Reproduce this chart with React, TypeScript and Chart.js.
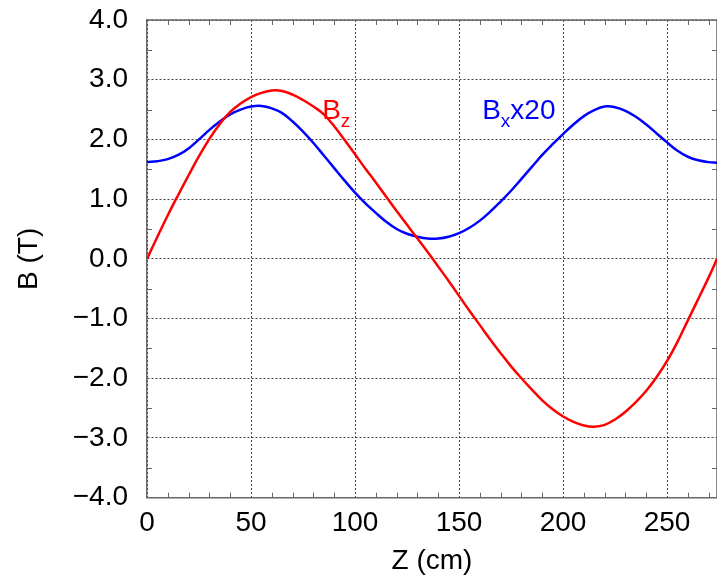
import React, { useEffect, useRef } from 'react';
import { Chart, registerables } from 'chart.js';

Chart.register(...registerables);

const FAMILY = "'Liberation Sans', Arial, Helvetica, sans-serif";

// Z positions (cm)
const zCm = [
  0, 5, 10, 15, 20, 25, 30, 35, 40, 45, 50, 55, 60, 65, 70, 75, 80, 85, 90, 95,
  100, 105, 110, 115, 120, 125, 130, 135, 140, 145, 150, 155, 160, 165, 170, 175,
  180, 185, 190, 195, 200, 205, 210, 215, 220, 225, 230, 235, 240, 245, 250, 255,
  260, 265, 270, 274,
];

// Bz (T)
const bz = [
  0.0, 0.37, 0.73, 1.07, 1.4, 1.72, 2.01, 2.26, 2.46, 2.6, 2.71, 2.78, 2.82, 2.81,
  2.75, 2.66, 2.55, 2.42, 2.22, 1.99, 1.75, 1.51, 1.28, 1.04, 0.8, 0.57, 0.34, 0.11,
  -0.13, -0.37, -0.62, -0.87, -1.11, -1.35, -1.58, -1.8, -2.0, -2.19, -2.37, -2.52,
  -2.64, -2.73, -2.79, -2.81, -2.78, -2.69, -2.56, -2.4, -2.21, -1.98, -1.71, -1.39,
  -1.03, -0.67, -0.31, 0.0,
];

// Bx x 20 (T)
const bx20 = [
  1.62, 1.635, 1.67, 1.74, 1.85, 2.0, 2.16, 2.3, 2.42, 2.5, 2.55, 2.56, 2.52, 2.44,
  2.3, 2.13, 1.94, 1.73, 1.52, 1.31, 1.11, 0.93, 0.77, 0.62, 0.5, 0.42, 0.37, 0.34,
  0.34, 0.37, 0.43, 0.52, 0.64, 0.79, 0.96, 1.14, 1.34, 1.54, 1.74, 1.92, 2.09, 2.25,
  2.39, 2.49, 2.55, 2.54, 2.48, 2.38, 2.25, 2.1, 1.95, 1.81, 1.71, 1.65, 1.62, 1.61,
];

const xTicks = [0, 50, 100, 150, 200, 250];
const xTickLabels = ['0', '50', '100', '150', '200', '250'];
const yTicks = [-4, -3, -2, -1, 0, 1, 2, 3, 4];
const yTickLabels = ['\u22124.0', '\u22123.0', '\u22122.0', '\u22121.0', '0.0', '1.0', '2.0', '3.0', '4.0'];
const xMinor = [10, 20, 30, 40, 60, 70, 80, 90, 110, 120, 130, 140, 160, 170, 180, 190, 210, 220, 230, 240, 260, 270];
const yMinor = [-3.5, -2.5, -1.5, -0.5, 0.5, 1.5, 2.5, 3.5];

const RED = '#ff0000';
const BLUE = '#0000ff';

// curve labels: text parts (sub = subscript)
const bzLabelParts = [
  { text: 'B', sub: false },
  { text: 'z', sub: true },
];
const bxLabelParts = [
  { text: 'B', sub: false },
  { text: 'x', sub: true },
  { text: 'x20', sub: false },
];
const bzLabelAt = { z: 84.2, b: 2.337 };
const bxLabelAt = { z: 161.1, b: 2.337 };

const FRAME = '#666666';

const framePlugin = {
  id: 'frameTicks',
  beforeDatasetsDraw(chart: any) {
    const { ctx, chartArea: a, scales } = chart;
    const x = scales.x;
    const y = scales.y;
    ctx.save();
    ctx.strokeStyle = FRAME;
    ctx.lineWidth = 1.5;
    ctx.beginPath();
    ctx.moveTo(a.left, a.top);
    ctx.lineTo(a.right, a.top);
    ctx.moveTo(a.right, a.top);
    ctx.lineTo(a.right, a.bottom);
    ctx.stroke();
    ctx.lineWidth = 1;
    ctx.beginPath();
    const L = 5;
    for (const v of xMinor) {
      const px = Math.round(x.getPixelForValue(v)) + 0.5;
      ctx.moveTo(px, a.bottom);
      ctx.lineTo(px, a.bottom - L);
      ctx.moveTo(px, a.top);
      ctx.lineTo(px, a.top + L);
    }
    for (const v of yMinor) {
      const py = Math.round(y.getPixelForValue(v)) + 0.5;
      ctx.moveTo(a.left, py);
      ctx.lineTo(a.left + L, py);
      ctx.moveTo(a.right, py);
      ctx.lineTo(a.right - L, py);
    }
    ctx.stroke();
    ctx.restore();
  },
};

const labelPlugin = {
  id: 'curveLabels',
  afterDatasetsDraw(chart: any) {
    const { ctx, scales } = chart;
    const x = scales.x;
    const y = scales.y;
    ctx.save();
    ctx.textAlign = 'left';
    ctx.textBaseline = 'alphabetic';
    const draw = (parts: { text: string; sub: boolean }[], at: { z: number; b: number }, color: string) => {
      let px = x.getPixelForValue(at.z);
      const py = y.getPixelForValue(at.b);
      ctx.fillStyle = color;
      for (const p of parts) {
        ctx.font = `${p.sub ? 19 : 28}px ${FAMILY}`;
        ctx.fillText(p.text, px, py + (p.sub ? 8 : 0));
        px += ctx.measureText(p.text).width;
      }
    };
    draw(bzLabelParts, bzLabelAt, RED);
    draw(bxLabelParts, bxLabelAt, BLUE);
    ctx.restore();
  },
};

export default function App() {
  const ref = useRef<HTMLCanvasElement | null>(null);

  useEffect(() => {
    const canvas = ref.current;
    if (!canvas) return;
    const tickFont = { family: FAMILY, size: 28 };
    const chart = new Chart(canvas, {
      type: 'line',
      data: {
        datasets: [
          {
            label: 'Bz',
            data: zCm.map((z, i) => ({ x: z, y: bz[i] })),
            borderColor: RED,
            backgroundColor: RED,
            borderWidth: 2.5,
            pointRadius: 0,
            tension: 0.4,
            fill: false,
          },
          {
            label: 'Bx x20',
            data: zCm.map((z, i) => ({ x: z, y: bx20[i] })),
            borderColor: BLUE,
            backgroundColor: BLUE,
            borderWidth: 2.5,
            pointRadius: 0,
            tension: 0.4,
            fill: false,
          },
        ],
      },
      options: {
        animation: false,
        responsive: false,
        devicePixelRatio: 1,
        layout: { padding: { top: 20, right: 0, bottom: 0, left: 0 } },
        plugins: {
          legend: { display: false },
          tooltip: { enabled: false },
        },
        scales: {
          x: {
            type: 'linear',
            min: 0,
            max: 274,
            afterBuildTicks: (s: any) => {
              s.ticks = xTicks.map((v) => ({ value: v }));
            },
            afterFit: (s: any) => {
              s.height = 80.3;
              s.paddingLeft = 0;
              s.paddingRight = 0;
              s.paddingTop = 0;
              s.paddingBottom = 0;
            },
            ticks: {
              padding: 8.5,
              color: '#000',
              font: tickFont,
              maxRotation: 0,
              autoSkip: false,
              callback: (v: any) => xTickLabels[xTicks.indexOf(Number(v))],
            },
            grid: { color: '#444', lineWidth: 1, drawTicks: false },
            border: { display: true, color: FRAME, width: 1.5, dash: [2, 2] },
            title: {
              display: true,
              text: 'Z (cm)',
              color: '#000',
              font: tickFont,
              padding: { top: 0, bottom: 0 },
            },
          },
          y: {
            type: 'linear',
            min: -4,
            max: 4,
            afterBuildTicks: (s: any) => {
              s.ticks = yTicks.map((v) => ({ value: v }));
            },
            afterFit: (s: any) => {
              s.width = 147;
              s.paddingLeft = 0;
              s.paddingRight = 0;
              s.paddingTop = 0;
              s.paddingBottom = 0;
            },
            ticks: {
              padding: 19,
              color: '#000',
              font: tickFont,
              autoSkip: false,
              callback: (v: any) => yTickLabels[yTicks.indexOf(Number(v))],
            },
            grid: { color: '#444', lineWidth: 1, drawTicks: false },
            border: { display: true, color: FRAME, width: 1.5, dash: [2, 2] },
            title: {
              display: true,
              text: 'B (T)',
              color: '#000',
              font: tickFont,
              padding: { top: 12, bottom: 0 },
            },
          },
        },
      } as any,
      plugins: [framePlugin, labelPlugin],
    });
    return () => chart.destroy();
  }, []);

  return (
    <div style={{ position: 'absolute', left: 0, top: 0, width: 717, height: 578, background: '#fff' }}>
      <canvas ref={ref} width={717} height={578} style={{ display: 'block', width: 717, height: 578 }} />
    </div>
  );
}
